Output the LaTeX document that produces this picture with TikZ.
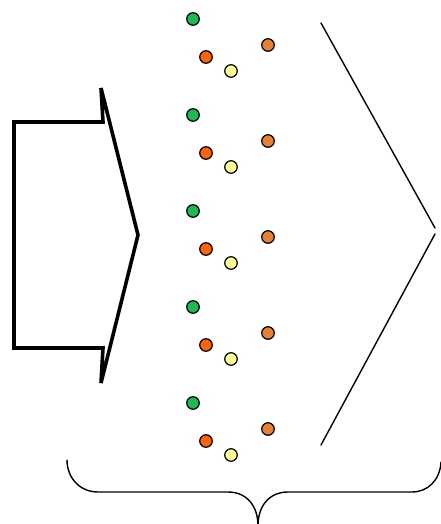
\documentclass[tikz,border=0pt]{standalone}
\begin{document}
\begin{tikzpicture}[x=1pt,y=-1pt,
  dot/.style={circle,draw=black,line width=1.2pt,minimum size=12.5pt,inner sep=0pt},
  dgreen/.style={dot,fill=dotgreen},
  dred/.style={dot,fill=dotred},
  dyellow/.style={dot,fill=dotyellow},
  dorange/.style={dot,fill=dotorange},
  thinline/.style={line width=1.4pt,line cap=round}]
\definecolor{dotgreen}{HTML}{1DB954}
\definecolor{dotred}{HTML}{FF6600}
\definecolor{dotyellow}{HTML}{FFFF99}
\definecolor{dotorange}{HTML}{E8803A}
\useasboundingbox (0,0) rectangle (441,524);
% block arrow
\draw[line width=3.6pt,line join=miter] (14,122) -- (103,122) -- (101,88) -- (138,235) -- (101,383) -- (103,348) -- (14,348) -- cycle;
% dots
\foreach \i in {0,...,4}{
  \pgfmathsetmacro{\dy}{96*\i}
  \node[dgreen] (g\i) at (193,19+\dy) {};
  \node[dred] (r\i) at (206,57+\dy) {};
  \node[dyellow] (y\i) at (231,71+\dy) {};
  \node[dorange] (o\i) at (268,45+\dy) {};
}
% chevron
\coordinate (c1) at (321,23);
\coordinate (c2) at (435,228);
\coordinate (c3) at (435,234);
\coordinate (c4) at (321,445);
\draw[thinline] (c1) -- (c2);
\draw[thinline] (c3) -- (c4);
% brace
\draw[thinline] (67,460) .. controls (67,478) and (80,492) .. (98,492) -- (228,492)
  .. controls (246,492) and (258,505) .. (258,526)
  (258,526) .. controls (258,505) and (270,492) .. (288,492) -- (412,492)
  .. controls (428,492) and (440,480) .. (441,462);
\end{tikzpicture}
\end{document}
